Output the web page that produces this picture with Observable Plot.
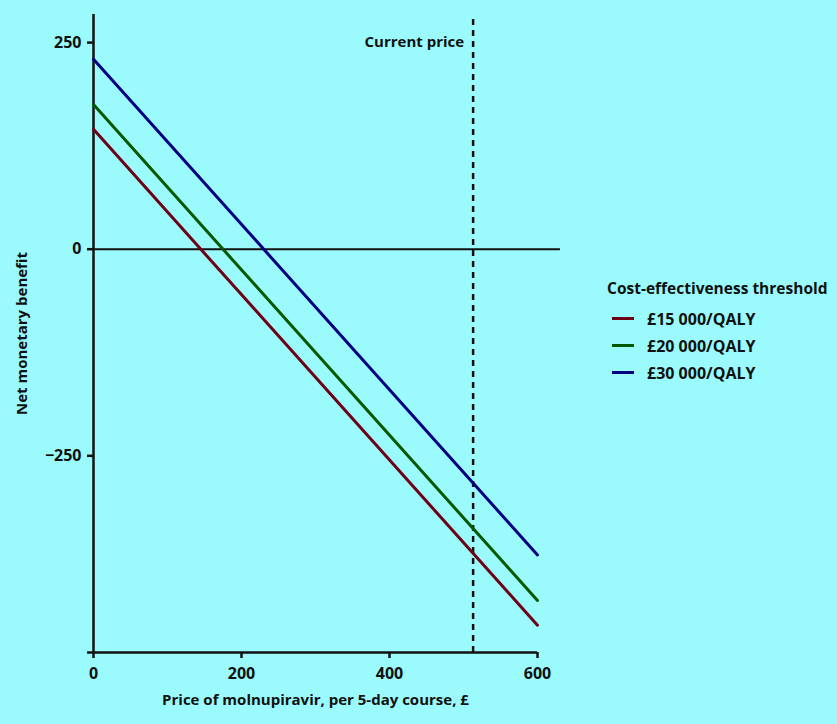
<!DOCTYPE html>
<html>
<head>
<meta charset="utf-8">
<script src="https://cdn.jsdelivr.net/npm/d3@7"></script>
<script src="https://cdn.jsdelivr.net/npm/@observablehq/plot@0.6"></script>
<style>
  html, body { margin: 0; padding: 0; background: #9bfbfc; }
  #wrap { position: relative; width: 837px; height: 724px; background: #9bfbfc; font-family: "Open Sans", "Noto Sans", sans-serif; }
  #legend { position: absolute; left: 607px; top: 277px; color: #111; font-weight: 700; }
  #legend .title { font-size: 15.5px; margin-bottom: 6px; }
  #legend .item { display: flex; align-items: center; font-size: 16px; height: 27px; }
  #legend .sw { width: 22px; height: 3px; margin-left: 5px; margin-right: 13px; }
</style>
</head>
<body>
<div id="wrap"><div id="chart"></div><div id="legend"></div></div>
<script>
const prices = [0, 600];
const seriesNames = ["£15 000/QALY", "£20 000/QALY", "£30 000/QALY"];
const nmb15 = [145, -455];
const nmb20 = [175, -425];
const nmb30 = [230, -370];
const seriesColors = ["#6e0016", "#005800", "#000080"];
const currentPrice = 513;
const xTicks = [0, 200, 400, 600];
const yTicks = [-250, 0, 250];

const allValues = [nmb15, nmb20, nmb30];
const rows = [];
seriesNames.forEach((s, i) => prices.forEach((p, j) => rows.push({series: s, price: p, nmb: allValues[i][j]})));

const font = '"Open Sans", "Noto Sans", sans-serif';
const chart = Plot.plot({
  width: 837,
  height: 724,
  marginLeft: 93,
  marginRight: 300,
  marginTop: 14,
  marginBottom: 72,
  style: {background: "transparent", fontFamily: font, fontSize: "16px", fontWeight: 700, color: "#111"},
  x: {domain: [0, 600], label: null},
  y: {domain: [-488, 284], label: null},
  color: {domain: seriesNames, range: seriesColors},
  marks: [
    Plot.axisX({ticks: xTicks, tickSize: 6, tickPadding: 9, strokeWidth: 2.5, label: null, fontSize: 16, fontWeight: 700}),
    Plot.axisY({ticks: yTicks, tickSize: 6, tickPadding: 6, strokeWidth: 2.5, label: null, fontSize: 16, fontWeight: 700}),
    Plot.ruleY([-488], {x1: -8, x2: 600, stroke: "#111", strokeWidth: 2.5}),
    Plot.ruleX([0], {y1: -488, y2: 284, stroke: "#111", strokeWidth: 2.5}),
    Plot.ruleY([0], {x1: 0, x2: 631, stroke: "#111", strokeWidth: 2}),
    Plot.ruleX([currentPrice], {y1: -488, y2: 284, stroke: "#111", strokeWidth: 2.5, strokeDasharray: "6,5"}),
    Plot.text(["Current price"], {x: currentPrice, y: 250, text: d => d, textAnchor: "end", dx: -9, fontSize: 15, fontWeight: 700, fill: "#111"}),
    Plot.line(rows, {x: "price", y: "nmb", z: "series", stroke: "series", strokeWidth: 3}),
    Plot.text(["Price of molnupiravir, per 5-day course, £"], {frameAnchor: "bottom", dy: 52, text: d => d, fontSize: 15, fontWeight: 700, fill: "#111"}),
    Plot.text(["Net monetary benefit"], {frameAnchor: "left", textAnchor: "middle", dx: -71, rotate: -90, text: d => d, fontSize: 15, fontWeight: 700, fill: "#111"})
  ]
});
document.getElementById("chart").appendChild(chart);

const legend = document.getElementById("legend");
legend.innerHTML = '<div class="title">Cost-effectiveness threshold</div>' +
  seriesNames.map((s, i) => `<div class="item"><span class="sw" style="background:${seriesColors[i]}"></span>${s}</div>`).join("");
</script>
</body>
</html>
